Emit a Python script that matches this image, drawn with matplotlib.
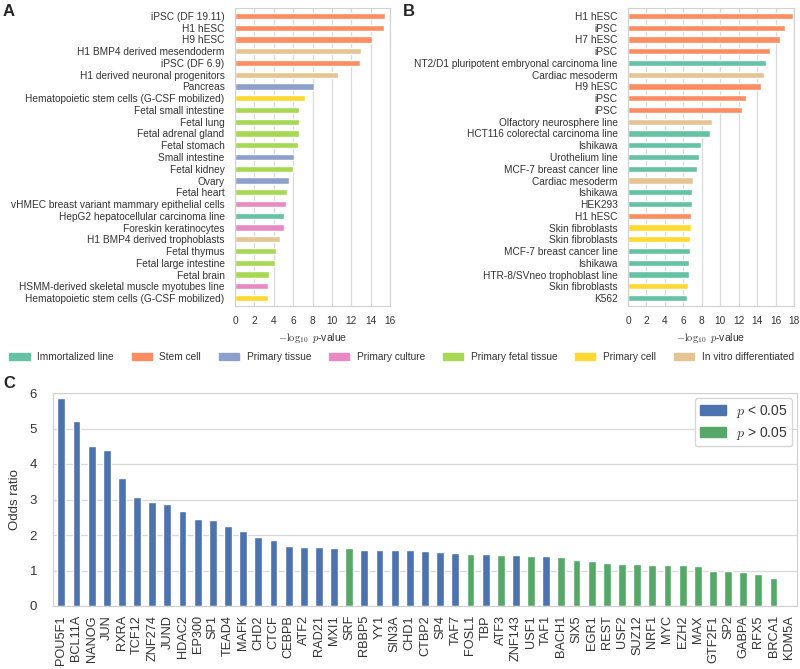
import matplotlib
matplotlib.use("Agg")
import matplotlib.pyplot as plt
from matplotlib.patches import Patch
import seaborn as sns

sns.set_style("whitegrid")
plt.rcParams['font.family'] = ['Liberation Sans', 'DejaVu Sans']
plt.rcParams['mathtext.fontset'] = 'cm'

# category colours (Set2)
cat_names = ['Immortalized line', 'Stem cell', 'Primary tissue', 'Primary culture',
             'Primary fetal tissue', 'Primary cell', 'In vitro differentiated']
cat_colors = ['#66c2a5', '#fc8d62', '#8da0cb', '#e78ac3', '#a6d854', '#ffd92f', '#e5c494']

# panel A
a_labels = ['iPSC (DF 19.11)', 'H1 hESC', 'H9 hESC', 'H1 BMP4 derived mesendoderm', 'iPSC (DF 6.9)',
            'H1 derived neuronal progenitors', 'Pancreas', 'Hematopoietic stem cells (G-CSF mobilized)',
            'Fetal small intestine', 'Fetal lung', 'Fetal adrenal gland', 'Fetal stomach',
            'Small intestine', 'Fetal kidney', 'Ovary', 'Fetal heart',
            'vHMEC breast variant mammary epithelial cells', 'HepG2 hepatocellular carcinoma line',
            'Foreskin keratinocytes', 'H1 BMP4 derived trophoblasts', 'Fetal thymus',
            'Fetal large intestine', 'Fetal brain', 'HSMM-derived skeletal muscle myotubes line',
            'Hematopoietic stem cells (G-CSF mobilized)']
a_values = [15.5, 15.4, 14.1, 13.0, 12.9, 10.6, 8.2, 7.2, 6.6, 6.6, 6.6, 6.5, 6.1, 6.0, 5.6, 5.4,
            5.3, 5.1, 5.05, 4.6, 4.25, 4.15, 3.55, 3.45, 3.4]
a_cats = [1, 1, 1, 6, 1, 6, 2, 5, 4, 4, 4, 4, 2, 4, 2, 4, 3, 0, 3, 6, 4, 4, 4, 3, 5]

# panel B
b_labels = ['H1 hESC', 'iPSC', 'H7 hESC', 'iPSC', 'NT2/D1 pluripotent embryonal carcinoma line',
            'Cardiac mesoderm', 'H9 hESC', 'iPSC', 'iPSC', 'Olfactory neurosphere line',
            'HCT116 colorectal carcinoma line', 'Ishikawa', 'Urothelium line',
            'MCF-7 breast cancer line', 'Cardiac mesoderm', 'Ishikawa', 'HEK293', 'H1 hESC',
            'Skin fibroblasts', 'Skin fibroblasts', 'MCF-7 breast cancer line', 'Ishikawa',
            'HTR-8/SVneo trophoblast line', 'Skin fibroblasts', 'K562']
b_values = [17.85, 17.0, 16.5, 15.4, 14.95, 14.7, 14.4, 12.8, 12.4, 9.1, 8.85, 7.93, 7.7, 7.45,
            7.0, 6.97, 6.96, 6.86, 6.8, 6.76, 6.73, 6.66, 6.65, 6.47, 6.36]
b_cats = [1, 1, 1, 1, 0, 6, 1, 1, 1, 6, 0, 0, 0, 0, 6, 0, 0, 1, 5, 5, 0, 0, 0, 5, 0]

# panel C
c_labels = ['POU5F1', 'BCL11A', 'NANOG', 'JUN', 'RXRA', 'TCF12', 'ZNF274', 'JUND', 'HDAC2',
            'EP300', 'SP1', 'TEAD4', 'MAFK', 'CHD2', 'CTCF', 'CEBPB', 'ATF2', 'RAD21', 'MXI1',
            'SRF', 'RBBP5', 'YY1', 'SIN3A', 'CHD1', 'CTBP2', 'SP4', 'TAF7', 'FOSL1', 'TBP',
            'ATF3', 'ZNF143', 'USF1', 'TAF1', 'BACH1', 'SIX5', 'EGR1', 'REST', 'USF2', 'SUZ12',
            'NRF1', 'MYC', 'EZH2', 'MAX', 'GTF2F1', 'SP2', 'GABPA', 'RFX5', 'BRCA1', 'KDM5A']
c_values = [5.85, 5.22, 4.52, 4.40, 3.61, 3.07, 2.92, 2.88, 2.67, 2.46, 2.41, 2.25, 2.10, 1.94,
            1.87, 1.70, 1.67, 1.65, 1.64, 1.63, 1.59, 1.59, 1.59, 1.57, 1.54, 1.53, 1.48, 1.46,
            1.46, 1.44, 1.43, 1.42, 1.41, 1.37, 1.29, 1.27, 1.22, 1.19, 1.18, 1.16, 1.15, 1.15,
            1.12, 0.99, 0.98, 0.97, 0.90, 0.80, 0.0]
c_signif = [True] * 19 + [False] + [True] * 7 + [False, True, False, True, False, True] + [False] * 16

W, H = 800, 669
fig = plt.figure(figsize=(8, 6.69), dpi=100)

def ax_px(l, t, r, b):
    return fig.add_axes([l / W, 1 - b / H, (r - l) / W, (b - t) / H])

def hbar_panel(ax, labels, values, cats, xmax, ticks):
    y = list(range(len(labels)))
    ax.barh(y, values, height=0.55, color=[cat_colors[c] for c in cats])
    ax.set_yticks(y)
    ax.set_yticklabels(labels, fontsize=7.3, color='#333333')
    ax.set_ylim(len(labels) - 1 + 0.68, -0.68)
    ax.set_xlim(0, xmax)
    ax.set_xticks(ticks)
    ax.tick_params(axis='x', labelsize=7.3, colors='#333333', pad=4)
    ax.tick_params(axis='y', pad=4)
    ax.grid(axis='y', visible=False)
    ax.grid(axis='x', color='#d9d9d9', lw=0.9)
    for s in ax.spines.values():
        s.set_color('#d0d0d0')
    ax.set_xlabel(r'$-\log_{10}$ $p$-value', fontsize=7.5, color='#333333', labelpad=3)

axA = ax_px(235, 8, 390, 306)
hbar_panel(axA, a_labels, a_values, a_cats, 16, range(0, 17, 2))
axB = ax_px(628, 8, 794, 306)
hbar_panel(axB, b_labels, b_values, b_cats, 18, range(0, 19, 2))

fig.text(3 / W, 1 - 12 / H, 'A', fontsize=12, fontweight='bold', va='center')
fig.text(403 / W, 1 - 12 / H, 'B', fontsize=12, fontweight='bold', va='center')
fig.text(3 / W, 1 - 383 / H, 'C', fontsize=12, fontweight='bold', va='center')

handles = [Patch(color=c, label=n) for n, c in zip(cat_names, cat_colors)]
fig.legend(handles=handles, loc='center', bbox_to_anchor=(0.502, 1 - 357 / H), ncol=7,
           frameon=False, fontsize=7.3, handlelength=2.0, handleheight=0.7,
           columnspacing=1.75, handletextpad=0.75, labelcolor='#333333',
           borderpad=0.1, borderaxespad=0.1)

axC = ax_px(53, 393, 797, 606)
x = list(range(len(c_labels)))
axC.bar(x, c_values, width=0.52, color=['#4c72b0' if s else '#55a868' for s in c_signif])
axC.set_xlim(-0.55, len(c_labels) - 0.45)
axC.set_ylim(0, 6)
axC.set_xticks(x)
axC.set_xticklabels(c_labels, rotation=90, fontsize=9.2, color='#333333')
axC.tick_params(axis='y', labelsize=9.5, colors='#333333', pad=8)
axC.tick_params(axis='x', pad=3)
axC.grid(axis='x', visible=False)
axC.grid(axis='y', color='#d9d9d9', lw=0.9)
for s in axC.spines.values():
    s.set_color('#d0d0d0')
axC.set_ylabel('Odds ratio', fontsize=9.5, color='#333333', labelpad=6)
axC.legend(handles=[Patch(color='#4c72b0', label='$p$ < 0.05'),
                    Patch(color='#55a868', label='$p$ > 0.05')],
           loc='upper right', fontsize=10, frameon=True, handlelength=1.9,
           handletextpad=0.7, labelspacing=0.35, borderpad=0.35,
           borderaxespad=0.35, labelcolor='#333333')

fig.savefig('out.png', dpi=100)
